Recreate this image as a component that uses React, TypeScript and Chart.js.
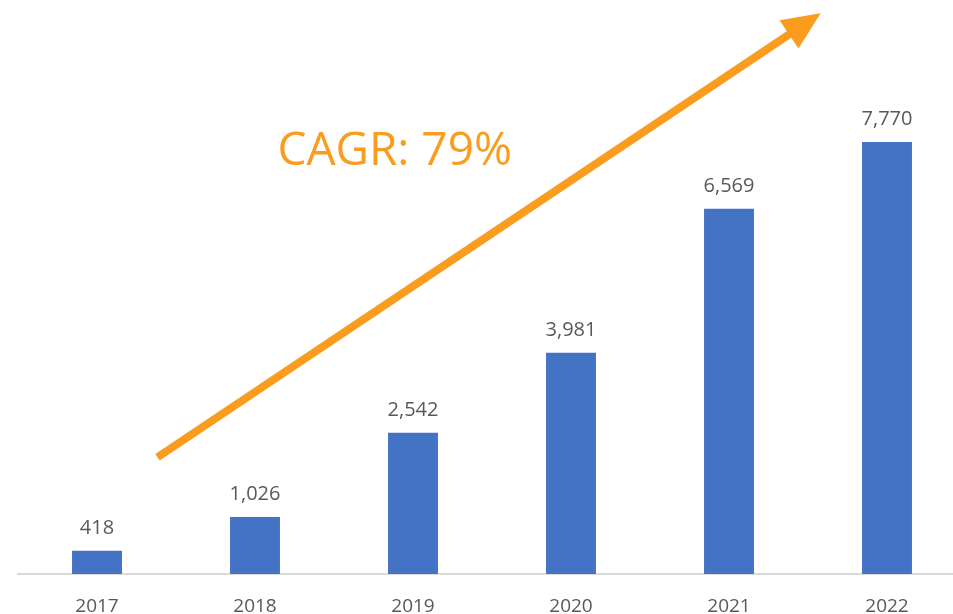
import React, { useEffect, useRef } from "react";
import { Chart, registerables } from "chart.js";

Chart.register(...registerables);

const years = ["2017", "2018", "2019", "2020", "2021", "2022"];
const values = [418, 1026, 2542, 3981, 6569, 7770];
const yMax = 10000;
// Arrow annotation in data coordinates (category index, value)
const arrowStart = { x: 0.383, y: 2100 };
const arrowEnd = { x: 4.58, y: 10085 };
const cagrText = "CAGR: 79%";
const cagrPos = { x: 1.142, y: 7350 };

const BAR = "#4472C4";
const GREY = "#595959";
const ORANGE = "#FA9C1E";

const overlayPlugin = {
  id: "overlay",
  afterDatasetsDraw(chart: any) {
    const ctx = chart.ctx;
    const meta = chart.getDatasetMeta(0);
    ctx.save();
    ctx.fillStyle = GREY;
    ctx.font = "20px 'Open Sans'";
    ctx.textAlign = "center";
    ctx.textBaseline = "alphabetic";
    meta.data.forEach((bar: any, i: number) => {
      ctx.fillText(values[i].toLocaleString("en-US"), bar.x, bar.y - 17);
    });
    const xs = chart.scales.x;
    const ys = chart.scales.y;
    const x1 = xs.getPixelForValue(arrowStart.x);
    const y1 = ys.getPixelForValue(arrowStart.y);
    const x2 = xs.getPixelForValue(arrowEnd.x);
    const y2 = ys.getPixelForValue(arrowEnd.y);
    const ang = Math.atan2(y2 - y1, x2 - x1);
    const headLen = 38;
    const headHalf = 17;
    const bx = x2 - headLen * Math.cos(ang);
    const by = y2 - headLen * Math.sin(ang);
    ctx.strokeStyle = ORANGE;
    ctx.lineWidth = 8;
    ctx.lineCap = "butt";
    ctx.beginPath();
    ctx.moveTo(x1, y1);
    ctx.lineTo(bx + 2 * Math.cos(ang), by + 2 * Math.sin(ang));
    ctx.stroke();
    ctx.fillStyle = ORANGE;
    ctx.beginPath();
    ctx.moveTo(x2, y2);
    ctx.lineTo(bx + headHalf * Math.sin(ang), by - headHalf * Math.cos(ang));
    ctx.lineTo(bx - headHalf * Math.sin(ang), by + headHalf * Math.cos(ang));
    ctx.closePath();
    ctx.fill();
    ctx.font = "46px 'Open Sans'";
    ctx.textAlign = "left";
    ctx.textBaseline = "alphabetic";
    ctx.fillText(cagrText, xs.getPixelForValue(cagrPos.x), ys.getPixelForValue(cagrPos.y));
    ctx.restore();
  },
};

export default function App() {
  const ref = useRef<HTMLCanvasElement>(null);
  useEffect(() => {
    if (!ref.current) return;
    const chart = new Chart(ref.current, {
      type: "bar",
      data: {
        labels: years,
        datasets: [
          {
            data: values,
            backgroundColor: BAR,
            barPercentage: 0.316,
            categoryPercentage: 1,
          },
        ],
      },
      options: {
        responsive: false,
        animation: false,
        layout: { padding: { top: 18, left: 18, right: 0, bottom: 0 } },
        plugins: { legend: { display: false }, tooltip: { enabled: false } },
        scales: {
          x: {
            offset: true,
            grid: { display: false },
            border: { display: true, color: "#D9D9D9", width: 2 },
            ticks: { color: GREY, font: { family: "'Open Sans'", size: 19 }, padding: 13 },
            afterFit: (s: any) => {
              s.height = 66;
            },
          },
          y: { display: false, min: 0, max: yMax },
        },
      },
      plugins: [overlayPlugin],
    });
    return () => chart.destroy();
  }, []);
  return (
    <div style={{ position: "fixed", left: 0, top: 0, width: 953, height: 614, overflow: "hidden", background: "#fff" }}>
      <canvas ref={ref} width={966} height={640} style={{ display: "block" }} />
    </div>
  );
}
